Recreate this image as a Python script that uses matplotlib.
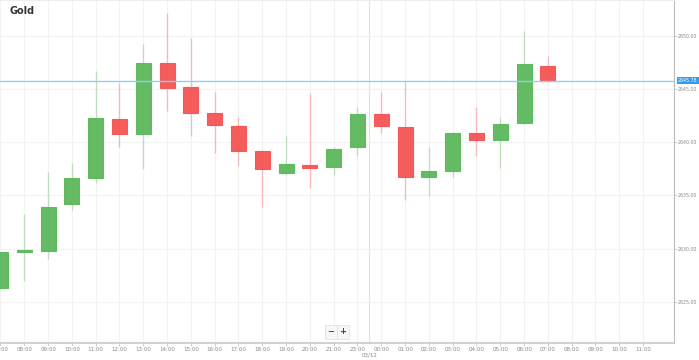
import matplotlib
matplotlib.use('Agg')
import matplotlib.pyplot as plt
import matplotlib.transforms as mtransforms

# hourly candles, 07:00 (11 Dec) .. 07:00 (12 Dec), no 22:00 session
hours = ['07:00', '08:00', '09:00', '10:00', '11:00', '12:00', '13:00', '14:00',
         '15:00', '16:00', '17:00', '18:00', '19:00', '20:00', '21:00', '23:00',
         '00:00', '01:00', '02:00', '03:00', '04:00', '05:00', '06:00', '07:00']
opens = [2626.29, 2629.70, 2629.74, 2634.18, 2636.60, 2642.17, 2640.73, 2647.41,
         2645.21, 2642.71, 2641.54, 2639.19, 2637.12, 2637.85, 2637.63, 2639.51,
         2642.64, 2641.45, 2636.75, 2637.28, 2640.83, 2640.20, 2641.77, 2647.18]
highs = [2629.70, 2633.21, 2637.22, 2638.06, 2646.68, 2645.53, 2649.19, 2652.16,
         2649.81, 2644.74, 2642.39, 2639.25, 2640.57, 2644.64, 2639.51, 2643.27,
         2644.74, 2645.68, 2639.51, 2640.98, 2643.33, 2642.33, 2650.44, 2648.09]
lows = [2626.20, 2626.97, 2629.01, 2633.62, 2636.13, 2639.51, 2637.47, 2642.92,
        2640.60, 2639.00, 2637.78, 2633.93, 2636.91, 2635.71, 2636.91, 2638.72,
        2640.88, 2634.56, 2634.93, 2636.69, 2638.72, 2637.54, 2641.67, 2645.62]
closes = [2629.64, 2629.85, 2633.93, 2636.60, 2642.24, 2640.76, 2647.41, 2645.06,
          2642.71, 2641.61, 2639.16, 2637.47, 2637.91, 2637.59, 2639.32, 2642.64,
          2641.51, 2636.75, 2637.28, 2640.83, 2640.20, 2641.70, 2647.31, 2645.78]
future_hours = ['08:00', '09:00', '10:00', '11:00']
y_ticks = [2625, 2630, 2635, 2640, 2645, 2650]
last_price = 2645.78

green = '#5cb85c'
red = '#f55454'

fig = plt.figure(figsize=(6.99, 3.6), dpi=100)
ax = fig.add_axes([0, 17.3 / 360, 674 / 699, 1 - 17.3 / 360])

xs = list(range(len(hours)))
for i in xs:
    up = closes[i] >= opens[i]
    col = green if up else red
    ax.vlines(i, lows[i], highs[i], color=col, alpha=0.35, lw=1, zorder=2)
    lo = min(opens[i], closes[i])
    h = max(abs(closes[i] - opens[i]), 0.15)
    ax.bar(i, h, bottom=lo, width=0.63, color=col, edgecolor=col,
           linewidth=0.8, alpha=0.95, zorder=3)

all_labels = hours + future_hours
tick_pos = list(range(len(all_labels)))
ax.set_xticks(tick_pos)
ax.set_xticklabels(all_labels, fontsize=4, color='#888888')
ax.set_xlim(-0.02, 28.3)
ax.set_ylim(2621.15, 2653.36)

ax.yaxis.tick_right()
ax.set_yticks(y_ticks)
ax.set_yticklabels(['%.2f' % v for v in y_ticks], fontsize=3.4, color='#888888')
ax.tick_params(axis='both', length=2, width=0.5, color='#bbbbbb', pad=1)

ax.grid(True, color='#f2f2f2', lw=0.8, zorder=0)
ax.spines['left'].set_visible(False)
ax.spines['top'].set_color('#eeeeee')
ax.spines['right'].set_color('#bbbbbb')
ax.spines['bottom'].set_color('#c8c8c8')
ax.spines['bottom'].set_linewidth(1.2)

# day separator
ax.axvline(15.5, color='#e0e0e0', lw=0.8, zorder=1)
ax.text(15.5, -0.03, '03/12', transform=mtransforms.blended_transform_factory(ax.transData, ax.transAxes),
        ha='center', va='top', fontsize=4, color='#888888')

# last price line and tag
ax.axhline(last_price, color='#8fcff5', lw=1, zorder=4)
trans = mtransforms.blended_transform_factory(ax.transAxes, ax.transData)
ax.text(1.006, last_price, '%.2f' % last_price, transform=trans, fontsize=3.4,
        color='white', va='center', ha='left', zorder=6, clip_on=False,
        bbox=dict(boxstyle='square,pad=0.25', fc='#2f9cf0', ec='none'))

ax.text(10 / 674, 1 - 11 / 343, 'Gold', transform=ax.transAxes, fontsize=7,
        fontweight='bold', color='#333333', va='center', ha='left')

# zoom buttons
for xp, sym in [(331, '\u2212'), (343, '+')]:
    fig.text(xp / 699, 1 - 332 / 360, sym, fontsize=6, fontweight='bold', color='#444444',
             ha='center', va='center',
             bbox=dict(boxstyle='square,pad=0.25', fc='#f7f7f7', ec='#dddddd', lw=0.5))

fig.savefig('out.png', dpi=100)
